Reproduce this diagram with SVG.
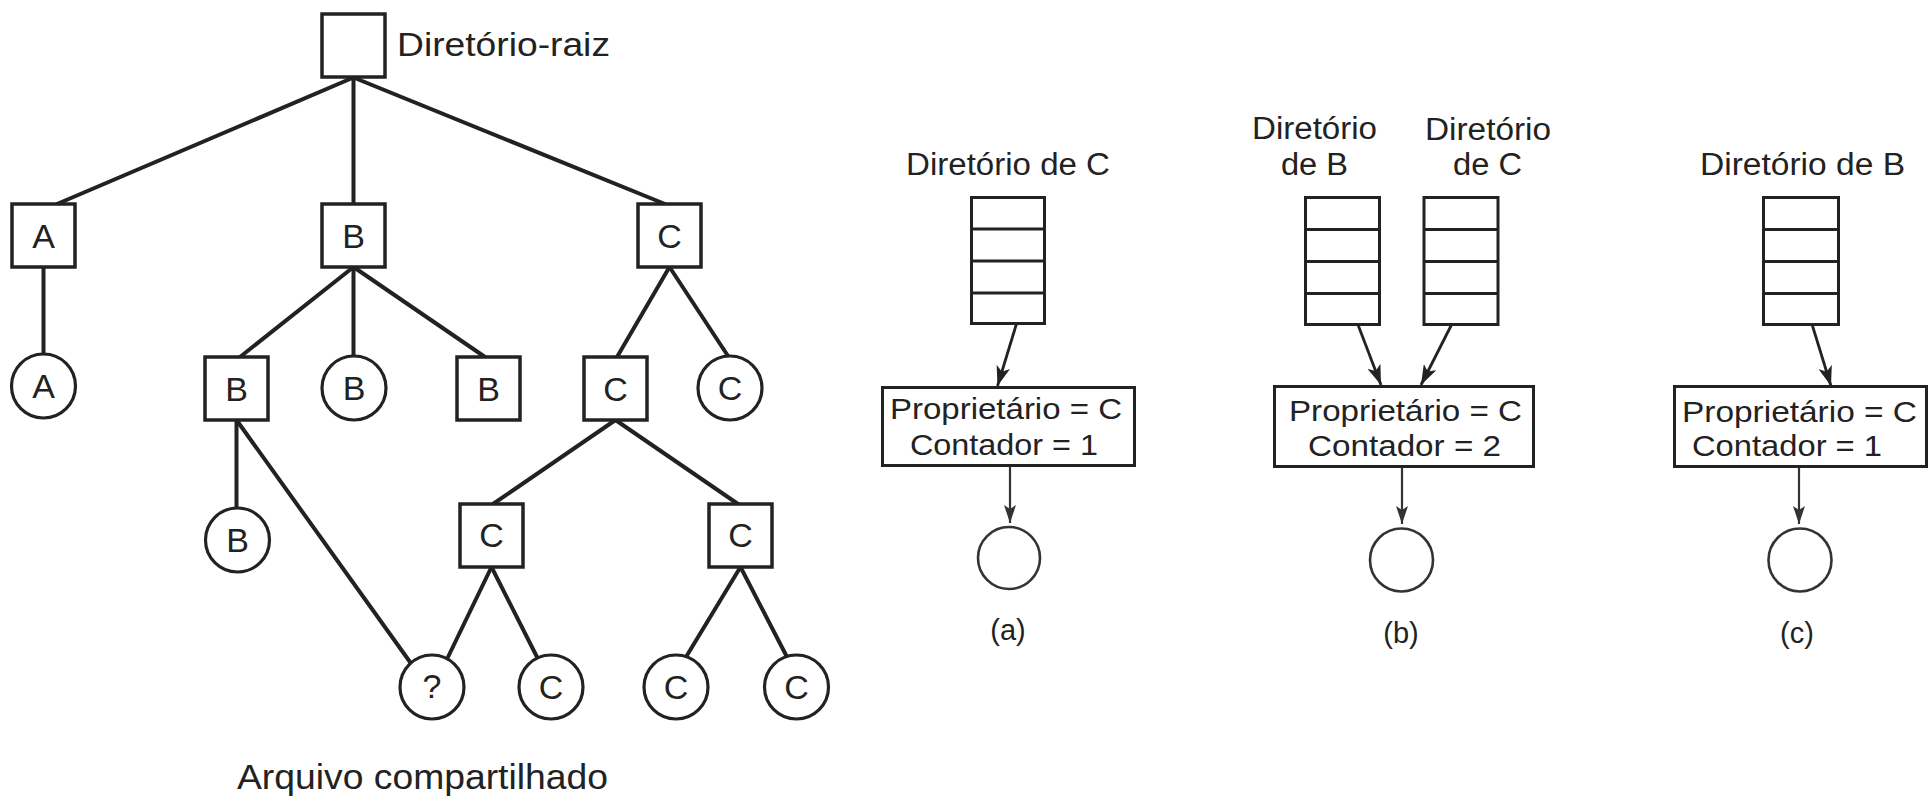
<svg xmlns="http://www.w3.org/2000/svg" width="1930" height="796" viewBox="0 0 1930 796">
  <style>
    .bg { fill: #ffffff; }
    .dir { fill: #ffffff; stroke: #222; stroke-width: 3.5; }
    .file { fill: #ffffff; stroke: #222; stroke-width: 3.2; }
    .edge { stroke: #222; stroke-width: 4; fill: none; stroke-linecap: round; }
    .lbl { font-family: "Liberation Sans", Arial, Helvetica, sans-serif; font-size: 34px; fill: #222; text-anchor: middle; }
    .cap { font-family: "Liberation Sans", Arial, Helvetica, sans-serif; fill: #222; }
    .tbl { fill: #ffffff; stroke: #222; stroke-width: 3; }
    .row { stroke: #222; stroke-width: 3; }
    .ptr { stroke: #222; stroke-width: 2.8; fill: none; marker-end: url(#head); }
    .ptr2 { stroke: #333; stroke-width: 2.2; fill: none; marker-end: url(#head2); }
    .inode { fill: #ffffff; stroke: #222; stroke-width: 3; }
    .rcirc { fill: #ffffff; stroke: #333; stroke-width: 2.6; }
  </style>
  <defs>
    <marker id="head" viewBox="0 0 20 14" refX="20" refY="7" markerWidth="20" markerHeight="14" markerUnits="userSpaceOnUse" orient="auto">
      <path d="M0,0 L20,7 L0,14 L5,7 z" fill="#222"/>
    </marker>
    <marker id="head2" viewBox="0 0 18 12" refX="18" refY="6" markerWidth="18" markerHeight="12" markerUnits="userSpaceOnUse" orient="auto">
      <path d="M0,0 L18,6 L0,12 L4,6 z" fill="#333"/>
    </marker>
  </defs>
  <rect class="bg" x="0" y="0" width="1930" height="796"/>

  <!-- tree edges -->
  <g id="tree-edges">
    <line class="edge" x1="353.5" y1="77.5" x2="57" y2="204"/>
    <line class="edge" x1="353.5" y1="77.5" x2="353.5" y2="204"/>
    <line class="edge" x1="353.5" y1="77.5" x2="665" y2="204"/>
    <line class="edge" x1="43.5" y1="267" x2="43.5" y2="354"/>
    <line class="edge" x1="353.5" y1="267" x2="240" y2="357"/>
    <line class="edge" x1="353.5" y1="267" x2="353.5" y2="356"/>
    <line class="edge" x1="353.5" y1="267" x2="485" y2="357"/>
    <line class="edge" x1="669.5" y1="267" x2="617" y2="357"/>
    <line class="edge" x1="669.5" y1="267" x2="728" y2="356"/>
    <line class="edge" x1="236.5" y1="420" x2="236.5" y2="508"/>
    <line class="edge" x1="236.5" y1="420" x2="410" y2="662"/>
    <line class="edge" x1="615.5" y1="420" x2="493" y2="504"/>
    <line class="edge" x1="615.5" y1="420" x2="738" y2="504"/>
    <line class="edge" x1="491.5" y1="567" x2="448" y2="657"/>
    <line class="edge" x1="491.5" y1="567" x2="537" y2="657"/>
    <line class="edge" x1="740.5" y1="567" x2="686" y2="657"/>
    <line class="edge" x1="740.5" y1="567" x2="787" y2="657"/>
  </g>

  <!-- tree nodes: squares are directories, circles are files -->
  <g id="root">
    <rect class="dir" x="322" y="14" width="63" height="63"/>
    <text class="cap" x="397" y="56" font-size="34" textLength="213" lengthAdjust="spacingAndGlyphs">Diretório-raiz</text>
  </g>
  <g id="dir-a">
    <rect class="dir" x="12" y="204" width="63" height="63"/>
    <text class="lbl" x="43.5" y="248">A</text>
  </g>
  <g id="dir-b">
    <rect class="dir" x="322" y="204" width="63" height="63"/>
    <text class="lbl" x="353.5" y="248">B</text>
  </g>
  <g id="dir-c">
    <rect class="dir" x="638" y="204" width="63" height="63"/>
    <text class="lbl" x="669.5" y="248">C</text>
  </g>
  <g id="file-a">
    <circle class="file" cx="43.5" cy="386" r="32"/>
    <text class="lbl" x="43.5" y="398">A</text>
  </g>
  <g id="dir-b1">
    <rect class="dir" x="205" y="357" width="63" height="63"/>
    <text class="lbl" x="236.5" y="401">B</text>
  </g>
  <g id="file-b1">
    <circle class="file" cx="354" cy="388" r="32"/>
    <text class="lbl" x="354" y="400">B</text>
  </g>
  <g id="dir-b2">
    <rect class="dir" x="457" y="357" width="63" height="63"/>
    <text class="lbl" x="488.5" y="401">B</text>
  </g>
  <g id="dir-c1">
    <rect class="dir" x="584" y="357" width="63" height="63"/>
    <text class="lbl" x="615.5" y="401">C</text>
  </g>
  <g id="file-c1">
    <circle class="file" cx="730" cy="388" r="32"/>
    <text class="lbl" x="730" y="400">C</text>
  </g>
  <g id="file-b2">
    <circle class="file" cx="237.5" cy="540" r="32"/>
    <text class="lbl" x="237.5" y="552">B</text>
  </g>
  <g id="dir-c2">
    <rect class="dir" x="460" y="504" width="63" height="63"/>
    <text class="lbl" x="491.5" y="547">C</text>
  </g>
  <g id="dir-c3">
    <rect class="dir" x="709" y="504" width="63" height="63"/>
    <text class="lbl" x="740.5" y="547">C</text>
  </g>
  <g id="file-shared">
    <circle class="file" cx="432" cy="687" r="32"/>
    <text class="lbl" x="432" y="698" font-size="30">?</text>
  </g>
  <g id="file-c2">
    <circle class="file" cx="551" cy="687" r="32"/>
    <text class="lbl" x="551" y="699">C</text>
  </g>
  <g id="file-c3">
    <circle class="file" cx="676" cy="687" r="32"/>
    <text class="lbl" x="676" y="699">C</text>
  </g>
  <g id="file-c4">
    <circle class="file" cx="796.5" cy="687" r="32"/>
    <text class="lbl" x="796.5" y="699">C</text>
  </g>
  <g id="shared-caption">
    <text class="cap" x="237" y="789" font-size="35" textLength="371" lengthAdjust="spacingAndGlyphs">Arquivo compartilhado</text>
  </g>

  <!-- pointer arrows of the i-node panels -->
  <g id="pointers">
    <line class="ptr" x1="1021" y1="309" x2="997.5" y2="386"/>
    <line class="ptr2" x1="1010" y1="467" x2="1010" y2="523"/>
    <line class="ptr" x1="1339" y1="275" x2="1381" y2="385"/>
    <line class="ptr" x1="1459" y1="310" x2="1421" y2="385"/>
    <line class="ptr2" x1="1402" y1="468" x2="1402" y2="524"/>
    <line class="ptr" x1="1799" y1="282" x2="1831" y2="386"/>
    <line class="ptr2" x1="1799" y1="468" x2="1799" y2="524"/>
  </g>

  <!-- panel (a) -->
  <g id="panel-a">
    <text class="cap" x="906" y="175" font-size="31" textLength="204" lengthAdjust="spacingAndGlyphs">Diretório de C</text>
    <rect class="tbl" x="971.5" y="197.5" width="73" height="126"/>
    <line class="row" x1="971.5" y1="229" x2="1044.5" y2="229"/>
    <line class="row" x1="971.5" y1="261" x2="1044.5" y2="261"/>
    <line class="row" x1="971.5" y1="293" x2="1044.5" y2="293"/>
    <rect class="inode" x="882.5" y="387.5" width="252" height="78"/>
    <text class="cap" x="890" y="419" font-size="30" textLength="232" lengthAdjust="spacingAndGlyphs">Proprietário = C</text>
    <text class="cap" x="910" y="455" font-size="30" textLength="188" lengthAdjust="spacingAndGlyphs">Contador = 1</text>
    <circle class="rcirc" cx="1009" cy="558" r="31"/>
    <text class="cap" x="1008" y="640" font-size="29" text-anchor="middle">(a)</text>
  </g>

  <!-- panel (b) -->
  <g id="panel-b">
    <text class="cap" x="1252" y="139" font-size="31" textLength="125" lengthAdjust="spacingAndGlyphs">Diretório</text>
    <text class="cap" x="1281" y="175" font-size="31" textLength="67" lengthAdjust="spacingAndGlyphs">de B</text>
    <text class="cap" x="1425" y="140" font-size="31" textLength="126" lengthAdjust="spacingAndGlyphs">Diretório</text>
    <text class="cap" x="1453" y="175" font-size="31" textLength="69" lengthAdjust="spacingAndGlyphs">de C</text>
    <rect class="tbl" x="1305.5" y="197.5" width="74" height="127"/>
    <line class="row" x1="1305.5" y1="229.5" x2="1379.5" y2="229.5"/>
    <line class="row" x1="1305.5" y1="261.5" x2="1379.5" y2="261.5"/>
    <line class="row" x1="1305.5" y1="293.5" x2="1379.5" y2="293.5"/>
    <rect class="tbl" x="1424" y="197.5" width="74" height="127"/>
    <line class="row" x1="1424" y1="229.5" x2="1498" y2="229.5"/>
    <line class="row" x1="1424" y1="261.5" x2="1498" y2="261.5"/>
    <line class="row" x1="1424" y1="293.5" x2="1498" y2="293.5"/>
    <rect class="inode" x="1274.5" y="386.5" width="259" height="80"/>
    <text class="cap" x="1289" y="421" font-size="30" textLength="233" lengthAdjust="spacingAndGlyphs">Proprietário = C</text>
    <text class="cap" x="1308" y="456" font-size="30" textLength="193" lengthAdjust="spacingAndGlyphs">Contador = 2</text>
    <circle class="rcirc" cx="1401.5" cy="560" r="31.5"/>
    <text class="cap" x="1401" y="643" font-size="29" text-anchor="middle">(b)</text>
  </g>

  <!-- panel (c) -->
  <g id="panel-c">
    <text class="cap" x="1700" y="175" font-size="31" textLength="205" lengthAdjust="spacingAndGlyphs">Diretório de B</text>
    <rect class="tbl" x="1763.5" y="197.5" width="75" height="127"/>
    <line class="row" x1="1763.5" y1="229.5" x2="1838.5" y2="229.5"/>
    <line class="row" x1="1763.5" y1="261.5" x2="1838.5" y2="261.5"/>
    <line class="row" x1="1763.5" y1="293.5" x2="1838.5" y2="293.5"/>
    <rect class="inode" x="1674.5" y="386.5" width="252" height="80"/>
    <text class="cap" x="1682" y="422" font-size="30" textLength="235" lengthAdjust="spacingAndGlyphs">Proprietário = C</text>
    <text class="cap" x="1692" y="456" font-size="30" textLength="190" lengthAdjust="spacingAndGlyphs">Contador = 1</text>
    <circle class="rcirc" cx="1800" cy="560" r="31.5"/>
    <text class="cap" x="1797" y="643" font-size="29" text-anchor="middle">(c)</text>
  </g>
</svg>
